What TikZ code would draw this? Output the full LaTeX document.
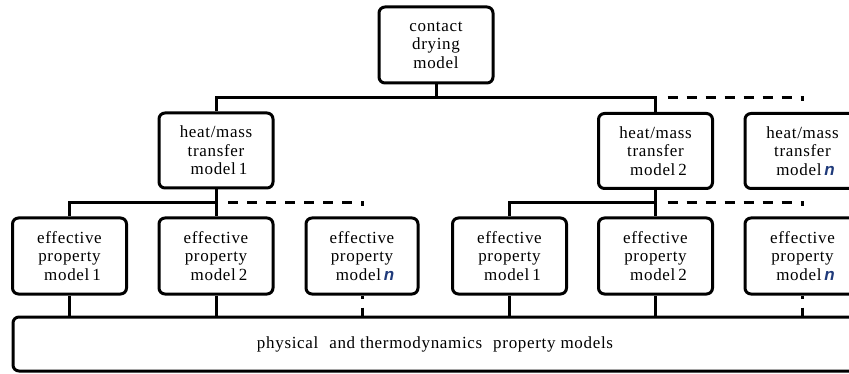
\documentclass[tikz,border=0pt]{standalone}
\usepackage{fontspec}
\setmainfont{Liberation Serif}[LetterSpace=4]
\setsansfont{Liberation Sans}
\definecolor{nblue}{HTML}{1F3A7A}
\newcommand{\nn}{{\color{nblue}\sffamily\bfseries\itshape n}}
\begin{document}
\begin{tikzpicture}[x=1pt,y=-1pt,
  box/.style={draw, line width=3pt, rounded corners=6pt, minimum width=114pt, minimum height=76pt,
    inner sep=0pt, align=center, font=\fontsize{17pt}{18.5pt}\selectfont},
  conn/.style={line width=3pt},
  dconn/.style={line width=3pt, dash pattern=on 10pt off 9pt, shorten <=12pt},
  vdconn/.style={line width=3pt, dash pattern=on 3pt off 9pt on 20pt}]
\clip (0,0) rectangle (849,374);
\useasboundingbox (0,0) rectangle (849,374);
\coordinate (bus1) at (0,98);
\coordinate (bus2) at (0,203);
\node[box] (top) at (436,45) {contact\\drying\\model};
\node[box, minimum height=75pt] (hm1) at (216,150.5) {heat/mass\\transfer\\\hspace{6pt}model\,1};
\node[box, minimum height=75pt] (hm2) at (655.5,151) {heat/mass\\transfer\\\hspace{6pt}model\,2};
\node[box, minimum height=75pt, minimum width=115pt] (hmn) at (802.5,151) {heat/mass\\transfer\\\hspace{6pt}model\,\nn};
\node[box] (e1) at (69.5,256) {effective\\property\\\hspace{6pt}model\,1};
\node[box] (e2) at (216,256) {effective\\property\\\hspace{6pt}model\,2};
\node[box, minimum width=112pt] (e3) at (362,256) {effective\\property\\\hspace{6pt}model\,\nn};
\node[box] (e4) at (509.5,256) {effective\\property\\\hspace{6pt}model\,1};
\node[box] (e5) at (655.5,256) {effective\\property\\\hspace{6pt}model\,2};
\node[box, minimum width=115pt] (e6) at (802.5,256) {effective\\property\\\hspace{6pt}model\,\nn};
\node[box, minimum width=844pt, minimum height=54pt] (bot) at (435,344) {physical\hspace{6pt} and thermodynamics\hspace{6pt} property models};
\coordinate (endA) at (802.5,101);
\coordinate (endB) at (362,206);
\coordinate (endC) at (802.5,206);
% top level
\draw[conn] (top.south) -- (top.south |- bus1) -| (hm1.north);
\draw[conn] (top.south |- bus1) -| (hm2.north);
\draw[dconn] (hm2.north |- bus1) -| (endA);
% second level
\draw[conn] (hm1.south) -- (hm1.south |- bus2) -| (e1.north);
\draw[conn] (hm1.south |- bus2) -- (e2.north);
\draw[dconn] (hm1.south |- bus2) -| (endB);
\draw[conn] (hm2.south) -- (hm2.south |- bus2) -| (e4.north);
\draw[conn] (hm2.south |- bus2) -- (e5.north);
\draw[dconn] (hm2.south |- bus2) -| (endC);
% to bottom
\draw[conn] (e1.south) -- (e1.south |- bot.north);
\draw[conn] (e2.south) -- (e2.south |- bot.north);
\draw[vdconn] (e3.south) -- (e3.south |- bot.north);
\draw[conn] (e4.south) -- (e4.south |- bot.north);
\draw[conn] (e5.south) -- (e5.south |- bot.north);
\draw[vdconn] (e6.south) -- (e6.south |- bot.north);
\end{tikzpicture}
\end{document}
